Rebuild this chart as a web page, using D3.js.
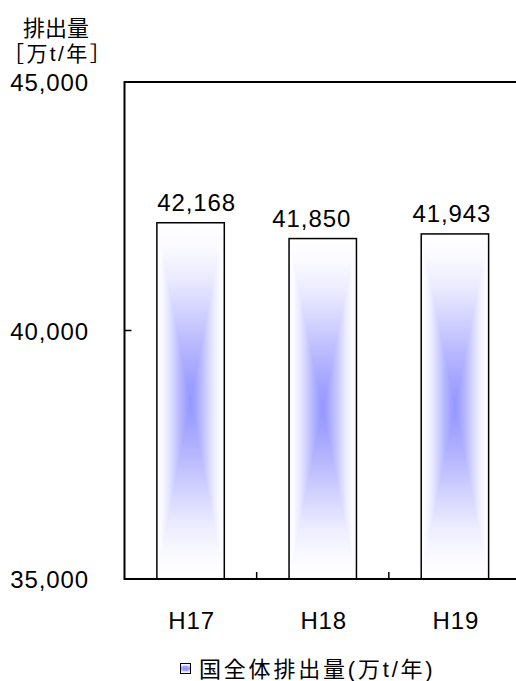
<!DOCTYPE html>
<html>
<head>
<meta charset="utf-8">
<script src="https://cdn.jsdelivr.net/npm/d3@7"></script>
<style>
  html, body { margin: 0; padding: 0; background: #fff; }
  svg { display: block; }
  .num { font-family: "Liberation Sans", Arial, sans-serif; font-size: 24px; letter-spacing: 0.9px; fill: #000; }
  .cjk { font-family: "Liberation Sans", "Noto Sans CJK JP", sans-serif; fill: #000; }
</style>
</head>
<body>
<script>
// Fiscal years and national total emissions (10,000 t / year)
const years = ["H17", "H18", "H19"];
const emissions = [42168, 41850, 41943];
const yTicks = [35000, 40000, 45000];
const legendLabel = "国全体排出量(万t/年)";
const axisTitle = ["排出量", "［万t/年］"];
// small horizontal shifts of the value labels
const labelNudge = [6, -11, -3];

const W = 516, H = 681;
const svg = d3.select("body").append("svg").attr("width", W).attr("height", H);

const plot = { left: 124.5, top: 82, right: 521, bottom: 579 };

const x = d3.scaleBand().domain(years).range([plot.left, plot.right])
  .paddingInner(0.49).paddingOuter(0.245);
const y = d3.scaleLinear().domain([35000, 45000]).range([plot.bottom, plot.top]);

// Rectangular "from centre" fill: white at the edges, blue at the centre
const defs = svg.append("defs");
const stops = [
  [0, "#ffffff"], [0.12, "#fbfbff"], [0.3, "#ececff"], [0.5, "#d2d2ff"],
  [0.7, "#b6b6ff"], [0.88, "#a0a1ff"], [1, "#9597ff"]
];
function grad(id, x1, y1, x2, y2, sym) {
  const g = defs.append("linearGradient").attr("id", id)
    .attr("x1", x1).attr("y1", y1).attr("x2", x2).attr("y2", y2);
  if (sym) {
    // edge -> centre -> edge
    stops.forEach(([o, c]) => g.append("stop").attr("offset", o / 2).attr("stop-color", c));
    stops.slice().reverse().forEach(([o, c]) => g.append("stop").attr("offset", 1 - o / 2).attr("stop-color", c));
  } else {
    stops.forEach(([o, c]) => g.append("stop").attr("offset", o).attr("stop-color", c));
  }
}
grad("gV", 0, 0, 0, 1, true);   // whole bar height
grad("gL", 0, 0, 1, 0, false);  // left edge -> centre
grad("gR", 1, 0, 0, 0, false);  // right edge -> centre

const fmt = d3.format(",");

const bars = svg.append("g");
years.forEach((yr, i) => {
  const x0 = x(yr), x1 = x0 + x.bandwidth();
  const y0 = y(emissions[i]), y1 = y(35000);
  const cx = (x0 + x1) / 2, cy = (y0 + y1) / 2;
  const g = bars.append("g");
  g.append("rect").attr("x", x0).attr("y", y0).attr("width", x1 - x0).attr("height", y1 - y0)
    .attr("fill", "url(#gV)");
  g.append("path").attr("d", `M${x0},${y0}L${cx},${cy}L${x0},${y1}Z`).attr("fill", "url(#gL)");
  g.append("path").attr("d", `M${x1},${y0}L${cx},${cy}L${x1},${y1}Z`).attr("fill", "url(#gR)");
  g.append("rect").attr("x", x0).attr("y", y0).attr("width", x1 - x0).attr("height", y1 - y0)
    .attr("fill", "none").attr("stroke", "#000").attr("stroke-width", 1.5);
  svg.append("text").attr("class", "num")
    .attr("x", cx + labelNudge[i]).attr("y", y0 - 12)
    .attr("text-anchor", "middle").text(fmt(emissions[i]));
});

// Plot frame (left, top and bottom edges)
svg.append("path")
  .attr("d", `M${plot.right + 2},${plot.top}H${plot.left}V${plot.bottom}H${plot.right + 2}`)
  .attr("fill", "none").attr("stroke", "#000").attr("stroke-width", 2);

// y axis: labels and inner ticks
svg.append("g").selectAll("line").data(yTicks.slice(1, -1)).join("line")
  .attr("x1", plot.left).attr("x2", plot.left + 7)
  .attr("y1", d => y(d)).attr("y2", d => y(d))
  .attr("stroke", "#000").attr("stroke-width", 1.5);
svg.append("g").selectAll("text").data(yTicks).join("text")
  .attr("class", "num").attr("x", 89).attr("y", d => y(d) + 9)
  .attr("text-anchor", "end").text(d => fmt(d));

// x axis: category boundary ticks and labels
const bounds = years.slice(1).map(d => x(d) - x.step() * x.paddingInner() / 2);
svg.append("g").selectAll("line").data(bounds).join("line")
  .attr("x1", d => d).attr("x2", d => d)
  .attr("y1", plot.bottom).attr("y2", plot.bottom - 7)
  .attr("stroke", "#000").attr("stroke-width", 1.5);
svg.append("g").selectAll("text").data(years).join("text")
  .attr("class", "num").attr("x", d => x(d) + x.bandwidth() / 2 + 1).attr("y", 629)
  .attr("text-anchor", "middle").text(d => d);

// axis title
svg.append("text").attr("class", "cjk").attr("x", 56).attr("y", 36)
  .attr("text-anchor", "middle").attr("font-size", 22).text(axisTitle[0]);
svg.append("text").attr("class", "cjk").attr("x", 3).attr("y", 61)
  .attr("font-size", 21).attr("letter-spacing", 2.4)
  .text(axisTitle[1]);

// legend
const lg = svg.append("g");
lg.append("rect").attr("x", 180.5).attr("y", 663.5).attr("width", 10).attr("height", 10)
  .attr("fill", "url(#gV)").attr("stroke", "#000").attr("stroke-width", 1);
lg.append("rect").attr("x", 183).attr("y", 666).attr("width", 5).attr("height", 5)
  .attr("fill", "#9597ff").attr("opacity", 0.8);
lg.append("text").attr("class", "cjk").attr("x", 199).attr("y", 677)
  .attr("font-size", 22).attr("letter-spacing", 2.8).text(legendLabel);
</script>
</body>
</html>
